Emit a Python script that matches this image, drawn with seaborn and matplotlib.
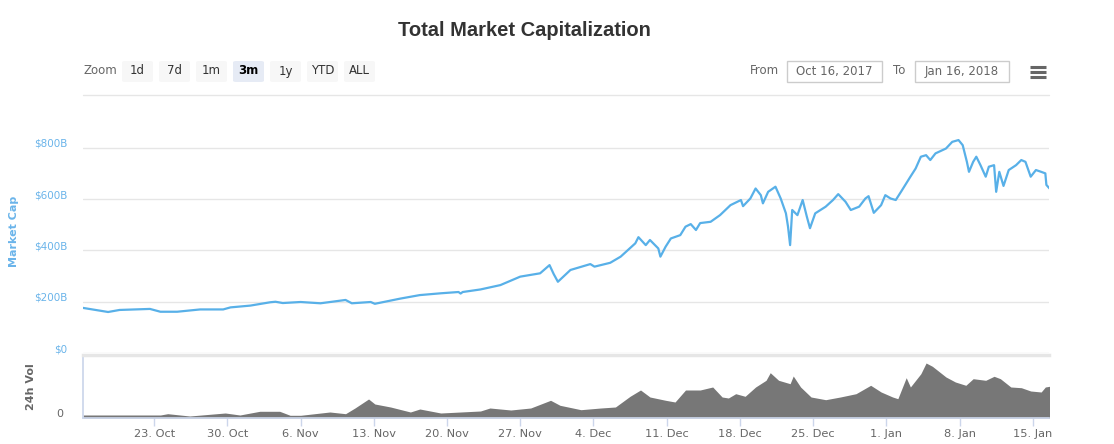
import numpy as np
import pandas as pd
import matplotlib
matplotlib.use("Agg")
import matplotlib.pyplot as plt
import matplotlib.dates as mdates
import matplotlib.transforms as mtransforms
from matplotlib.patches import FancyBboxPatch, Rectangle
from matplotlib.lines import Line2D
import seaborn as sns

# Dados (dias desde 16 Out 2017, valores em bilhões de USD)
cap_day = [0.2, 2.6, 3.7, 6.6, 7.6, 9.2, 11.4, 13.6, 14.3, 16.2, 18.1, 18.6, 19.3, 21.0,
           22.9, 25.3, 25.9, 27.7, 28.1, 30.5, 32.4, 34.4, 36.1, 36.3, 36.5, 38.2, 40.1,
           42.0, 43.9, 44.8, 45.2, 45.6, 46.8, 48.7, 49.1, 50.6, 51.6, 53.0, 53.3, 54.0,
           54.4, 55.2, 55.4, 55.9, 56.4, 57.3, 57.8, 58.3, 58.8, 59.2, 60.2, 61.1, 62.1,
           63.1, 63.3, 64.0, 64.5, 65.0, 65.2, 65.7, 66.4, 66.9, 67.4, 67.6, 67.8, 68.0,
           68.5, 69.0, 69.4, 69.7, 70.2, 71.2, 71.9, 72.4, 73.1, 73.6, 74.4, 75.0, 75.3,
           75.8, 76.5, 76.9, 77.4, 77.9, 78.4, 79.3, 79.8, 80.3, 80.8, 81.2, 81.7, 82.7,
           83.3, 83.9, 84.3, 84.7, 84.9, 85.3, 85.6, 86.0, 86.5, 86.8, 87.3, 87.5, 87.8,
           88.2, 88.7, 89.4, 89.9, 90.3, 90.8, 91.3, 91.8, 92.2, 92.3, 92.6]
cap_val = [176, 160, 168, 172, 161, 161, 170, 170, 178, 185, 198, 200, 195, 199,
           194, 207, 194, 199, 192, 212, 226, 233, 238, 232, 238, 248, 265,
           298, 311, 343, 308, 278, 324, 347, 337, 352, 376, 428, 452, 421,
           441, 408, 376, 415, 447, 460, 493, 503, 480, 507, 512, 538, 577,
           597, 573, 603, 642, 616, 584, 629, 649, 603, 545, 493, 421, 558,
           538, 597, 532, 487, 545, 571, 597, 620, 590, 558, 571, 603, 612,
           547, 577, 616, 603, 597, 629, 688, 720, 766, 772, 753, 779, 798,
           824, 831, 811, 746, 707, 746, 766, 733, 688, 727, 733, 629, 707,
           652, 714, 733, 753, 746, 688, 714, 707, 701, 656, 642]

vol_day = [0.2, 3.5, 6.6, 7.6, 8.3, 10.4, 13.8, 15.2, 17.1, 19.0, 20.0, 21.0, 23.8, 25.3,
           26.2, 27.5, 28.1, 29.6, 31.5, 32.4, 34.4, 36.3, 38.2, 39.1, 41.1, 43.0, 44.9,
           45.8, 47.8, 49.7, 51.1, 52.5, 53.5, 54.4, 55.9, 56.8, 57.8, 59.2, 60.4, 61.3,
           61.9, 62.6, 63.5, 64.5, 65.5, 65.9, 66.7, 67.8, 68.1, 68.8, 69.8, 71.2, 72.6,
           74.1, 75.5, 76.5, 77.6, 78.1, 78.9, 79.3, 80.3, 80.8, 81.4, 82.7, 83.6, 84.6,
           85.3, 86.5, 87.3, 87.9, 88.9, 89.9, 90.8, 91.8, 92.2, 92.6]
vol_val = [3, 3, 3, 3, 4.3, 2, 5, 3, 6.7, 6.7, 2.7, 2.7, 6, 4.3,
           10, 19, 14, 11, 6, 9, 5, 6, 7, 10, 8, 10, 17.7,
           12.7, 8.3, 10, 11, 21.7, 28, 21, 17.7, 16, 28, 28, 31, 21,
           20, 24.3, 21.7, 31, 37.7, 45.3, 37.7, 34.3, 42, 31, 21, 18.3, 21,
           24.3, 32.7, 26, 21, 19.3, 40.3, 31, 44.3, 55, 51.7, 41, 36, 32.7,
           39.3, 37.7, 41.7, 39.3, 31, 30.3, 27, 26, 31, 31.7]

cap_ticks = [0, 200, 400, 600, 800]
cap_labels = ["$0", "$200B", "$400B", "$600B", "$800B"]
zoom_buttons = ["1d", "7d", "1m", "3m", "1y", "YTD", "ALL"]
data_inicio = "Oct 16, 2017"
data_fim = "Jan 16, 2018"

inicio = pd.Timestamp("2017-10-16")
df_cap = pd.DataFrame({"data": inicio + pd.to_timedelta(cap_day, unit="D"), "cap": cap_val})
df_vol = pd.DataFrame({"data": inicio + pd.to_timedelta(vol_day, unit="D"), "vol": vol_val})

sns.set_theme(style="white")
plt.rcParams["font.family"] = ["DejaVu Sans"]

W, H = 1114, 444
azul = "#58b0e8"
azul_txt = "#6ab4ea"
cinza = "#666666"

fig = plt.figure(figsize=(W / 100, H / 100), dpi=100)


def px(x, y):
    return x / W, 1 - y / H


# eixos: painel principal e painel de volume
x0, x1 = 83, 1049
ax = fig.add_axes([x0 / W, 1 - 353 / H, (x1 - x0) / W, (353 - 110) / H])
axv = fig.add_axes([x0 / W, 1 - 418 / H, (x1 - x0) / W, (418 - 355) / H], sharex=ax)

sns.lineplot(data=df_cap, x="data", y="cap", ax=ax, color=azul, linewidth=1.6)
axv.fill_between(df_vol["data"], 0, df_vol["vol"], color="#777777", linewidth=0)

ax.set_xlim(inicio + pd.Timedelta(days=0.2), inicio + pd.Timedelta(days=92.55))
ax.set_ylim(0, 800 * 243 / 205)
axv.set_ylim(0, 63)

for s in ax.spines.values():
    s.set_visible(False)
ax.set_yticks(cap_ticks)
ax.set_yticklabels(cap_labels)
ax.tick_params(axis="y", colors=azul_txt, labelsize=7.5, length=0, pad=11)
ax.tick_params(axis="x", bottom=False, labelbottom=False)
ax.grid(axis="y", color="#e6e6e6", linewidth=1)
ax.grid(axis="x", visible=False)
ax.set_xlabel("")
ax.set_ylabel("Market Cap", color=azul_txt, fontsize=8, fontweight="bold")
ax.yaxis.set_label_coords(-64 / (x1 - x0), 0.5)

# rótulos do eixo y um pouco acima das linhas de grade (como no Highcharts)
desloc = mtransforms.ScaledTranslation(0, 5 / 100, fig.dpi_scale_trans)
for lab in ax.get_yticklabels():
    lab.set_transform(lab.get_transform() + desloc)

axv.spines["right"].set_visible(False)
axv.spines["left"].set_color("#ccd6eb")
axv.spines["bottom"].set_color("#ccd6eb")
axv.spines["top"].set_color("#e6e6e6")
axv.spines["top"].set_linewidth(2.5)
axv.set_yticks([0])
axv.set_yticklabels(["0"])
axv.tick_params(axis="y", colors=cinza, labelsize=8, length=0, pad=14)
for lab in axv.get_yticklabels():
    lab.set_transform(lab.get_transform() + desloc)
axv.xaxis.set_major_locator(mdates.WeekdayLocator(byweekday=mdates.MO))
axv.xaxis.set_major_formatter(plt.FuncFormatter(
    lambda v, pos: f"{mdates.num2date(v).day}. {mdates.num2date(v).strftime('%b')}"))
axv.tick_params(axis="x", colors="#ccd6eb", labelcolor=cinza, labelsize=8.2,
                length=6, width=1, direction="out", bottom=True, pad=2)
axv.grid(False)
axv.set_xlabel("")
axv.set_ylabel("24h Vol", color=cinza, fontsize=8, fontweight="bold")
axv.yaxis.set_label_coords(-47 / (x1 - x0), 0.5)

# titulo
fig.text(*px(524, 30), "Total Market Capitalization", ha="center", va="center",
         fontsize=14.5, fontweight="bold", color="#333333", family="Liberation Sans")

# botões de zoom
fig.text(*px(84, 71), "Zoom", ha="left", va="center", fontsize=8.5, color=cinza)
bx = [122, 159, 196, 233, 270, 307, 344]
for x, t in zip(bx, zoom_buttons):
    sel = t == "3m"
    fig.patches.append(FancyBboxPatch(px(x, 82), 31 / W, 21 / H,
                                      boxstyle="round,pad=0,rounding_size=0.003",
                                      transform=fig.transFigure,
                                      facecolor="#e6ebf5" if sel else "#f7f7f7",
                                      edgecolor="none"))
    fig.text(*px(x + 15.5, 71), t, ha="center", va="center", fontsize=8.5,
             color="#000000" if sel else "#333333", fontweight="bold" if sel else "normal")

# campos de data
fig.text(*px(750, 71), "From", ha="left", va="center", fontsize=8.5, color=cinza)
fig.text(*px(893, 71), "To", ha="left", va="center", fontsize=8.5, color=cinza)
for xa, xb, t in [(787, 882, data_inicio), (915, 1009, data_fim)]:
    fig.patches.append(Rectangle(px(xa, 82), (xb - xa) / W, 21 / H, transform=fig.transFigure,
                                 facecolor="white", edgecolor="#cccccc", linewidth=1))
    fig.text(*px((xa + xb) / 2, 71), t, ha="center", va="center", fontsize=8.5, color=cinza)

# menu
for yy in [67, 72, 77]:
    fig.lines.append(Line2D([1030 / W, 1046 / W], [1 - yy / H, 1 - yy / H],
                            transform=fig.transFigure, color=cinza, linewidth=2.2,
                            solid_capstyle="butt"))

# linha separadora
fig.lines.append(Line2D([83 / W, 1049 / W], [1 - 95 / H, 1 - 95 / H],
                        transform=fig.transFigure, color="#e6e6e6", linewidth=1))

fig.savefig("out.png", dpi=100)
